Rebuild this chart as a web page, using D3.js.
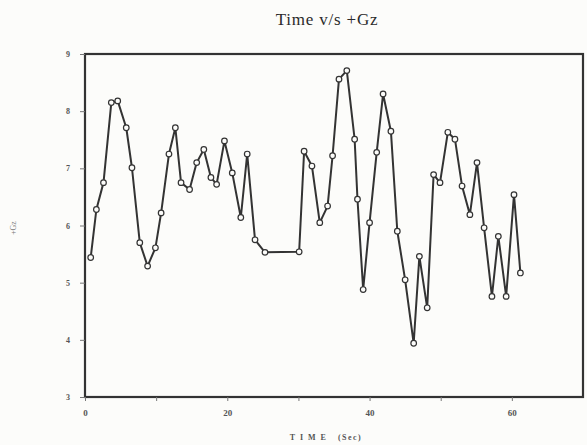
<!DOCTYPE html>
<html>
<head>
<meta charset="utf-8">
<script src="https://cdn.jsdelivr.net/npm/d3@7"></script>
<style>
  html, body { margin: 0; padding: 0; background: #fcfcfa; }
  svg { display: block; }
</style>
</head>
<body>
<script>
// ---- data ----
const timeSec = [0.8, 1.6, 2.6, 3.7, 4.6, 5.8, 6.6, 7.7, 8.8, 9.9,
  10.7, 11.8, 12.7, 13.5, 14.7, 15.7, 16.7, 17.7, 18.5, 19.6,
  20.7, 21.9, 22.8, 23.9, 25.3, 30.1, 30.8, 31.9, 33.0, 34.1,
  34.8, 35.7, 36.8, 37.9, 38.3, 39.1, 40.0, 41.0, 41.9, 43.0,
  43.9, 45.0, 46.2, 47.0, 48.1, 49.0, 49.9, 51.0, 52.0, 53.0,
  54.1, 55.1, 56.1, 57.2, 58.1, 59.2, 60.3, 61.2];
const gz = [5.44, 6.28, 6.75, 8.15, 8.18, 7.71, 7.01, 5.70, 5.29, 5.61,
  6.22, 7.25, 7.71, 6.75, 6.63, 7.10, 7.33, 6.84, 6.72, 7.48,
  6.92, 6.14, 7.25, 5.75, 5.53, 5.54, 7.30, 7.04, 6.05, 6.34,
  7.22, 8.56, 8.71, 7.51, 6.46, 4.88, 6.05, 7.28, 8.30, 7.65,
  5.90, 5.05, 3.94, 5.46, 4.56, 6.89, 6.75, 7.63, 7.51, 6.69,
  6.19, 7.10, 5.96, 4.76, 5.81, 4.76, 6.54, 5.17];
const xTicks = [0, 10, 20, 30, 40, 50, 60];
const xTickLabels = ["0", "", "20", "", "40", "", "60"];
const yTicks = [3, 4, 5, 6, 7, 8, 9];
const titleText = "Time v/s +Gz";
const xLabel = "T I M E   (Sec)";
const yLabel = "+Gz";

// ---- drawing ----
const W = 587, H = 445;
const plot = { left: 85, right: 583, top: 54, bottom: 397 };
const ink = "#333";

const svg = d3.select("body").append("svg").attr("width", W).attr("height", H);
svg.append("rect").attr("width", W).attr("height", H).attr("fill", "#fcfcfa");

const x = d3.scaleLinear().domain([0, 70]).range([plot.left, plot.right]);
const y = d3.scaleLinear().domain([3, 9]).range([plot.bottom, plot.top]);

// frame
svg.append("rect")
  .attr("x", plot.left).attr("y", plot.top)
  .attr("width", plot.right - plot.left).attr("height", plot.bottom - plot.top)
  .attr("fill", "none").attr("stroke", ink).attr("stroke-width", 2.2);

// axes
const xAxis = d3.axisBottom(x).tickValues(xTicks)
  .tickFormat((d, i) => xTickLabels[i]).tickSize(4).tickPadding(9);
const gx = svg.append("g").attr("transform", `translate(0,${plot.bottom})`).call(xAxis);
gx.select(".domain").remove();
gx.selectAll("line").attr("stroke", "#777").attr("stroke-width", 1);
gx.selectAll("text").attr("font-family", "Liberation Serif, serif")
  .attr("font-size", 9).attr("font-weight", "bold").attr("fill", "#555");

const yAxis = d3.axisLeft(y).tickValues(yTicks).tickFormat(d3.format("d"))
  .tickSize(5).tickPadding(10);
const gy = svg.append("g").attr("transform", `translate(${plot.left},0)`).call(yAxis);
gy.select(".domain").remove();
gy.selectAll("line").attr("stroke", "#777").attr("stroke-width", 1);
gy.selectAll("text").attr("font-family", "Liberation Serif, serif")
  .attr("font-size", 8).attr("font-weight", "bold").attr("fill", "#555");

// line
const pts = timeSec.map((t, i) => [t, gz[i]]);
svg.append("path").datum(pts)
  .attr("fill", "none").attr("stroke", ink).attr("stroke-width", 2)
  .attr("stroke-linejoin", "round")
  .attr("d", d3.line().x(d => x(d[0])).y(d => y(d[1])));

// markers
svg.append("g").selectAll("circle").data(pts).join("circle")
  .attr("cx", d => x(d[0])).attr("cy", d => y(d[1])).attr("r", 2.8)
  .attr("fill", "#fcfcfa").attr("stroke", ink).attr("stroke-width", 1.2);

// title
svg.append("text").attr("x", 327).attr("y", 25).attr("text-anchor", "middle")
  .attr("font-family", "Liberation Serif, serif").attr("font-size", 17)
  .attr("letter-spacing", 0.8)
  .attr("fill", "#2a2a2a").text(titleText);

// x label
svg.append("text").attr("x", 326).attr("y", 440).attr("text-anchor", "middle")
  .attr("font-family", "Liberation Serif, serif").attr("font-size", 8)
  .attr("font-weight", "bold").attr("fill", "#555").attr("letter-spacing", 1.5)
  .attr("xml:space", "preserve").style("white-space", "pre").text(xLabel);

// y label
svg.append("text").attr("transform", "translate(16,228) rotate(-90)")
  .attr("text-anchor", "middle")
  .attr("font-family", "Liberation Serif, serif").attr("font-size", 8)
  .attr("fill", "#777").text(yLabel);
</script>
</body>
</html>
